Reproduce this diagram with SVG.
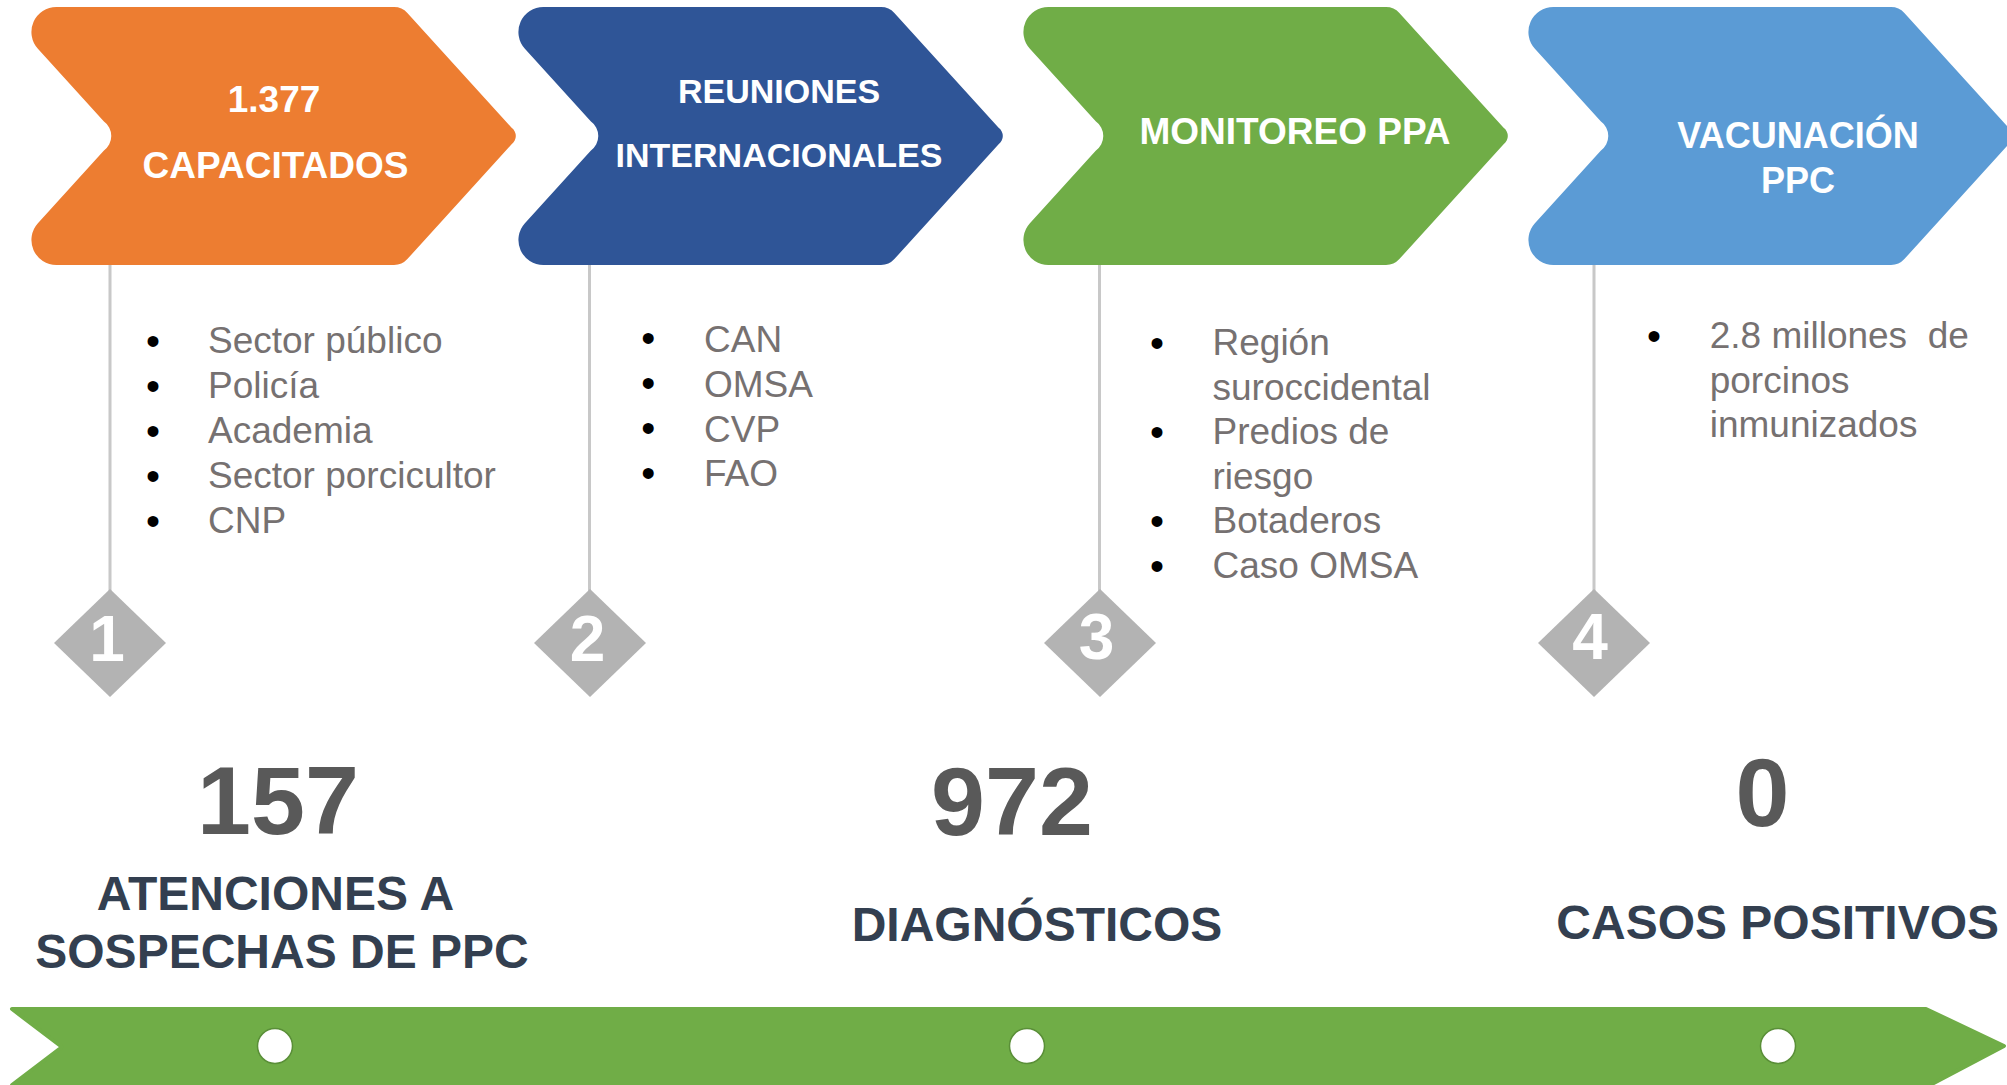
<svg xmlns="http://www.w3.org/2000/svg" xmlns:xlink="http://www.w3.org/1999/xlink" width="2007" height="1085" viewBox="0 0 2007 1085">
<defs>
<style>
.ct{font-family:"Liberation Sans",Arial,sans-serif;font-weight:bold;fill:#FFFFFF;text-anchor:middle}
.li{font-family:"Liberation Sans",Arial,sans-serif;font-size:37px;fill:#767171}
.bu{font-family:"Liberation Sans",Arial,sans-serif;font-size:40px;fill:#000000;text-anchor:middle}
.dn{font-family:"Liberation Sans",Arial,sans-serif;font-weight:bold;font-size:64px;fill:#FFFFFF;text-anchor:middle}
.big{font-family:"Liberation Sans",Arial,sans-serif;font-weight:bold;font-size:97px;fill:#595959;text-anchor:middle}
.lab{font-family:"Liberation Sans",Arial,sans-serif;font-weight:bold;font-size:48px;fill:#333F50;text-anchor:middle}
.dia{fill:#B3B3B3}
.conn{stroke:#C8C8C8;stroke-width:3;fill:none}
.dot{fill:#FFFFFF;stroke:#5A8F38;stroke-width:1.5}
</style>
<path id="chev" d="M56.4,7 L394,7 A18,18 0 0 1 407.37,12.93 L511.61,127.85 A10,10 0 0 1 511.61,144.15 L407.37,259.07 A18,18 0 0 1 394,265 L56.4,265 A25,25 0 0 1 37.89,223.23 L103.7,150.67 A18,18 0 0 0 103.7,121.33 L37.89,48.77 A25,25 0 0 1 56.4,7 Z"/>
</defs>
<rect width="2007" height="1085" fill="#FFFFFF"/>

<g id="connectors">
<line class="conn" x1="110" y1="265" x2="110" y2="592"/>
<line class="conn" x1="589.5" y1="265" x2="589.5" y2="592"/>
<line class="conn" x1="1099.5" y1="265" x2="1099.5" y2="592"/>
<line class="conn" x1="1594" y1="265" x2="1594" y2="592"/>
</g>

<g id="step1">
<use xlink:href="#chev" href="#chev" fill="#ED7D31"/>
<text class="ct" x="274" y="111.7" font-size="37">1.377</text>
<text class="ct" x="275.5" y="178.3" font-size="37">CAPACITADOS</text>
</g>
<g id="step2">
<use xlink:href="#chev" href="#chev" transform="translate(487,0)" fill="#2F5597"/>
<text class="ct" x="779" y="103.3" font-size="34">REUNIONES</text>
<text class="ct" x="779" y="166.7" font-size="34">INTERNACIONALES</text>
</g>
<g id="step3">
<use xlink:href="#chev" href="#chev" transform="translate(992,0)" fill="#70AD47"/>
<text class="ct" x="1295" y="144" font-size="37">MONITOREO PPA</text>
</g>
<g id="step4">
<use xlink:href="#chev" href="#chev" transform="translate(1497,0)" fill="#5B9BD5"/>
<text class="ct" x="1798" y="147.7" font-size="36">VACUNACIÓN</text>
<text class="ct" x="1798" y="193.3" font-size="36">PPC</text>
</g>

<g id="list1">
<text class="bu" x="153" y="355">•</text>
<text class="bu" x="153" y="400">•</text>
<text class="bu" x="153" y="445">•</text>
<text class="bu" x="153" y="490">•</text>
<text class="bu" x="153" y="534.5">•</text>
<text class="li" x="208" y="353.3">Sector público</text>
<text class="li" x="208" y="398.3">Policía</text>
<text class="li" x="208" y="443.3">Academia</text>
<text class="li" x="208" y="488.3">Sector porcicultor</text>
<text class="li" x="208" y="532.7">CNP</text>
</g>

<g id="list2">
<text class="bu" x="648.3" y="352">•</text>
<text class="bu" x="648.3" y="397">•</text>
<text class="bu" x="648.3" y="442">•</text>
<text class="bu" x="648.3" y="487">•</text>
<text class="li" x="704" y="351.7">CAN</text>
<text class="li" x="704" y="396.7">OMSA</text>
<text class="li" x="704" y="441.7">CVP</text>
<text class="li" x="704" y="486.3">FAO</text>
</g>

<g id="list3">
<text class="bu" x="1157" y="356.5">•</text>
<text class="bu" x="1157" y="446">•</text>
<text class="bu" x="1157" y="535">•</text>
<text class="bu" x="1157" y="579.5">•</text>
<text class="li" x="1212.5" y="355">Región</text>
<text class="li" x="1212.5" y="399.6">suroccidental</text>
<text class="li" x="1212.5" y="444.2">Predios de</text>
<text class="li" x="1212.5" y="488.8">riesgo</text>
<text class="li" x="1212.5" y="533.4">Botaderos</text>
<text class="li" x="1212.5" y="578">Caso OMSA</text>
</g>

<g id="list4">
<text class="bu" x="1654" y="350">•</text>
<text class="li" x="1709.7" y="348.3" style="white-space:pre">2.8 millones  de</text>
<text class="li" x="1709.7" y="392.5">porcinos</text>
<text class="li" x="1709.7" y="436.7">inmunizados</text>
</g>

<g id="marker1">
<polygon class="dia" points="110,589 166,643 110,697 54,643"/>
<text class="dn" x="107" y="661">1</text>
</g>
<g id="marker2">
<polygon class="dia" points="590,589 646,643 590,697 534,643"/>
<text class="dn" x="587.5" y="661">2</text>
</g>
<g id="marker3">
<polygon class="dia" points="1100,589 1156,643 1100,697 1044,643"/>
<text class="dn" x="1096.5" y="659">3</text>
</g>
<g id="marker4">
<polygon class="dia" points="1594,589 1650,643 1594,697 1538,643"/>
<text class="dn" x="1590" y="659">4</text>
</g>

<g id="stat1">
<text class="big" x="278" y="834">157</text>
<text class="lab" x="275.5" y="910">ATENCIONES A</text>
<text class="lab" x="282" y="968.3">SOSPECHAS DE PPC</text>
</g>
<g id="stat2">
<text class="big" x="1012" y="835">972</text>
<text class="lab" x="1037" y="940.7">DIAGNÓSTICOS</text>
</g>
<g id="stat3">
<text class="big" x="1762.5" y="826">0</text>
<text class="lab" x="1777.7" y="939.3">CASOS POSITIVOS</text>
</g>

<g id="timeline">
<polygon points="12,1009 1926,1009 2004,1046 1930,1085 12,1085 62,1047" fill="#70AD47" stroke="#70AD47" stroke-width="4" stroke-linejoin="round"/>
<circle class="dot" cx="275" cy="1046" r="17.5"/>
<circle class="dot" cx="1027" cy="1046" r="17.5"/>
<circle class="dot" cx="1778" cy="1046" r="17.5"/>
</g>
</svg>
